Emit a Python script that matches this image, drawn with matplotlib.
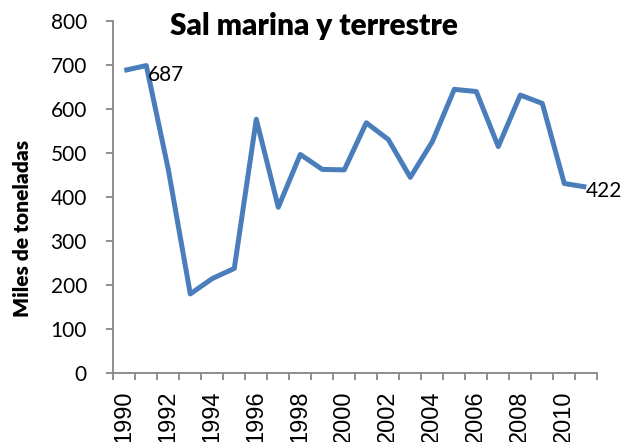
import matplotlib
matplotlib.use("Agg")
import matplotlib.pyplot as plt
from matplotlib.ticker import FixedLocator, NullFormatter

years = list(range(1990, 2012))
values = [687, 698, 462, 179, 214, 237, 576, 376, 496, 462, 461, 568,
          530, 444, 525, 644, 639, 514, 631, 612, 430, 422]
tick_labels = [str(y) if y % 2 == 0 else "" for y in years]
title = "Sal marina y terrestre"
ylabel = "Miles de toneladas"

fig = plt.figure(figsize=(6.24, 4.42), dpi=100)
ax = fig.add_axes([113.3 / 624, (442 - 372.7) / 442, 484 / 624, 352 / 442])

x = list(range(len(years)))
ax.plot(x, values, color="#4A7EBB", lw=3.6, solid_joinstyle="round",
        solid_capstyle="butt", zorder=3)

ax.set_xlim(-0.5, len(years) - 0.5)
ax.set_ylim(0, 800)
ax.set_yticks(range(0, 801, 100))

# category labels centered, tick marks between categories
ax.set_xticks(x)
ax.set_xticklabels(tick_labels, rotation=90, fontfamily="Liberation Sans",
                   fontsize=17, va="top")
ax.tick_params(axis="x", which="major", length=0, pad=13)
ax.xaxis.set_minor_locator(FixedLocator([i - 0.5 for i in range(len(years) + 1)]))
ax.xaxis.set_minor_formatter(NullFormatter())
ax.tick_params(axis="x", which="minor", length=5, width=1.3, color="#868686",
               direction="out")

ax.tick_params(axis="y", length=5, width=1.3, color="#868686", pad=14,
               labelsize=15)
for lab in ax.get_yticklabels():
    lab.set_fontfamily("Lato")

for s in ["top", "right"]:
    ax.spines[s].set_visible(False)
for s in ["left", "bottom"]:
    ax.spines[s].set_color("#868686")
    ax.spines[s].set_linewidth(1.3)

ax.annotate(str(values[0]), (0, values[0]), xytext=(17.3, -1.5),
            textcoords="offset points", ha="left", va="center_baseline",
            fontsize=15, fontfamily="Lato", annotation_clip=False)
ax.annotate(str(values[-1]), (len(years) - 1, values[-1]), xytext=(-0.7, -1.2),
            textcoords="offset points", ha="left", va="center_baseline",
            fontsize=15, fontfamily="Lato", annotation_clip=False)

fig.text(314 / 624, 1 - 35 / 442, title, ha="center", va="baseline",
         fontsize=21.5, fontweight="heavy", fontfamily="Lato")
fig.text(23 / 624, 1 - 228 / 442, ylabel, ha="center", va="center",
         rotation=90, fontsize=15, fontweight="heavy", fontfamily="Lato")

fig.savefig("out.png", dpi=100)
